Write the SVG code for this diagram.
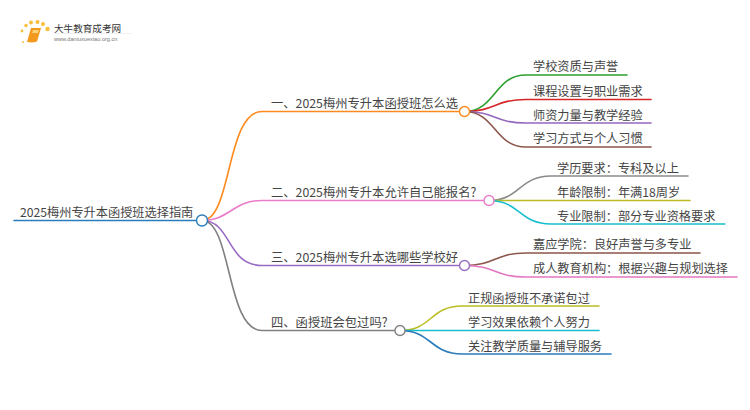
<svg xmlns="http://www.w3.org/2000/svg" width="750" height="410" viewBox="0 0 750 410">
<style>
text{font-family:"Noto Sans CJK SC","Liberation Sans",sans-serif;fill:#444}
.t{font-size:12.2px}
.h{font-size:12.300px}
.l{fill:none;stroke-width:1.600;stroke-linecap:round}
.n{fill:#fff;stroke-width:1.400}
.d{fill:#f9bd3c}
</style>
<rect width="750" height="410" fill="#fff"/>
<g id="logo">
<circle class="d" cx="23" cy="42" r="1"/><circle class="d" cx="22" cy="31" r="1.400"/><circle class="d" cx="26" cy="25.500" r="1.700"/><circle class="d" cx="31" cy="22.500" r="1.900"/><circle class="d" cx="37.500" cy="22" r="2"/><circle class="d" cx="43" cy="24" r="2"/><circle class="d" cx="47.500" cy="29" r="2.200"/>
<path d="M31 28H41L37 41.500Q33 43 27 42Z" fill="#f39a1e"/><path d="M33 30H39L38 33H32Z" fill="#fcd27a"/>
<text x="54" y="31.500" style="font-size:9.600px;fill:#333">大牛教育成考网</text>
<text x="54" y="41" style="font-size:5.600px;fill:#777;font-family:'Liberation Sans',sans-serif">www.daniuxuexiao.org.cn</text>
<path d="M54 33.500H132" stroke="#e8e8e8" stroke-width="0.600" fill="none"/>
</g>
<g id="connectors">
<path class="l" stroke="#2b7cba" d="M14 220.500H202"/>
<path class="l" stroke="#ff8a1f" d="M202 220.500C232 220.500 226 111.500 262 111.500H464"/>
<path class="l" stroke="#ea7cc9" d="M202 220.500C230 220.500 232 200.500 262 200.500H489"/>
<path class="l" stroke="#9a6bc4" d="M202 220.500C232 220.500 226 265.500 262 265.500H464"/>
<path class="l" stroke="#808080" d="M202 220.500C232 220.500 226 330.500 262 330.500H400"/>
<path class="l" stroke="#2ca02c" d="M464 111.500C496 111.500 494 75 526 75H627"/>
<path class="l" stroke="#d62728" d="M464 111.500C496 111.500 494 99.500 526 99.500H651"/>
<path class="l" stroke="#9467bd" d="M464 111.500C496 111.500 494 123 526 123H651"/>
<path class="l" stroke="#8c564b" d="M464 111.500C496 111.500 494 147 526 147H651"/>
<path class="l" stroke="#8a8a8a" d="M489 200.500C520 200.500 519 176 551 176H688"/>
<path class="l" stroke="#bcbd22" d="M489 200.500H690"/>
<path class="l" stroke="#17becf" d="M489 200.500C520 200.500 519 224 551 224H725"/>
<path class="l" stroke="#8c564b" d="M464 265.500C496 265.500 494 253 526 253H700"/>
<path class="l" stroke="#e377c2" d="M464 265.500C496 265.500 494 277 526 277H737"/>
<path class="l" stroke="#bcbd22" d="M400 330.500C432 330.500 430 306 462 306H599"/>
<path class="l" stroke="#17becf" d="M400 330.500H599"/>
<path class="l" stroke="#2b7cba" d="M400 330.500C432 330.500 430 354 462 354H611"/>
</g>
<g id="root"><text class="t" x="20" y="217">2025梅州专升本函授班选择指南</text><circle class="n" stroke="#2b7cba" cx="202" cy="220.500" r="5.500"/></g>
<g id="b1"><text class="h" x="271" y="108">一、2025梅州专升本函授班怎么选</text><circle class="n" stroke="#ff8a1f" cx="464.500" cy="111.500" r="5"/></g>
<g id="b2"><text class="h" x="271" y="197">二、2025梅州专升本允许自己能报名?</text><circle class="n" stroke="#ea7cc9" cx="489" cy="200.500" r="5"/></g>
<g id="b3"><text class="h" x="271" y="262">三、2025梅州专升本选哪些学校好</text><circle class="n" stroke="#9a6bc4" cx="464.500" cy="265.500" r="5"/></g>
<g id="b4"><text class="h" x="271" y="327">四、函授班会包过吗?</text><circle class="n" stroke="#808080" cx="400" cy="330.500" r="5"/></g>
<g id="b1a"><text class="t" x="533" y="71">学校资质与声誉</text></g>
<g id="b1b"><text class="t" x="533" y="96">课程设置与职业需求</text></g>
<g id="b1c"><text class="t" x="533" y="120">师资力量与教学经验</text></g>
<g id="b1d"><text class="t" x="533" y="143">学习方式与个人习惯</text></g>
<g id="b2a"><text class="t" x="557" y="173">学历要求：专科及以上</text></g>
<g id="b2b"><text class="t" x="557" y="197">年龄限制：年满18周岁</text></g>
<g id="b2c"><text class="t" x="557" y="221">专业限制：部分专业资格要求</text></g>
<g id="b3a"><text class="t" x="533" y="249">嘉应学院：良好声誉与多专业</text></g>
<g id="b3b"><text class="t" x="533" y="273">成人教育机构：根据兴趣与规划选择</text></g>
<g id="b4a"><text class="t" x="468" y="303">正规函授班不承诺包过</text></g>
<g id="b4b"><text class="t" x="468" y="327">学习效果依赖个人努力</text></g>
<g id="b4c"><text class="t" x="468" y="351">关注教学质量与辅导服务</text></g>
</svg>
